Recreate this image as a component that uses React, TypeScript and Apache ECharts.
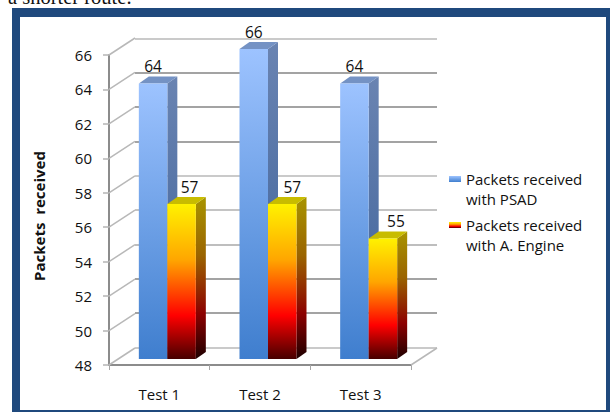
import React, { useEffect, useRef } from "react";
import * as echarts from "echarts";

const categories = ["Test 1", "Test 2", "Test 3"];
const psadValues = [64, 66, 64];
const engineValues = [57, 57, 55];
const yTicks = [48, 50, 52, 54, 56, 58, 60, 62, 64, 66];
const psadName = "Packets received\nwith PSAD";
const engineName = "Packets received\nwith A. Engine";

// Oblique projection of the 3D look, in pixels
const WALL_DX = 26;
const WALL_DY = 17;
const BAR_SHIFT_X = 8;
const BAR_SHIFT_Y = 6;
const BAR_WIDTH = 28.5;
const SIDE_DX = 10;
const SIDE_DY = 7;

const FONT = "Open Sans";

const grad = (stops: [number, string][]) =>
  new echarts.graphic.LinearGradient(0, 0, 0, 1, stops.map(([offset, color]) => ({ offset, color })));

const blueFront: [number, string][] = [[0, "#9DC3FF"], [1, "#3F7ECE"]];
const blueSide: [number, string][] = [[0, "#6A84B2"], [1, "#3A5F98"]];
const hotFront: [number, string][] = [[0, "#FFF200"], [0.36, "#FFA600"], [0.72, "#FF0000"], [1, "#470000"]];
const hotSide: [number, string][] = [[0, "#A89400"], [0.36, "#9A6400"], [0.72, "#8C0000"], [1, "#1E0000"]];

// Swatch occupies the upper part of the legend icon box, beside the first text line
const swatchStops = (stops: [number, string][]): [number, string][] =>
  stops.map(([o, c]) => [(o * 6) / 26, c]);

const cuboid = (
  front: [number, string][],
  side: [number, string][],
  topColor: string,
  barOffset: number,
  labelNudge: number[],
) => (_params: any, api: any) => {
  const idx = api.value(0);
  const val = api.value(1);
  const [cx, yTop] = api.coord([idx, val]);
  const [, yBase] = api.coord([idx, 48]);
  const x0 = cx + BAR_SHIFT_X + barOffset * BAR_WIDTH;
  const x1 = x0 + BAR_WIDTH;
  const top = yTop - BAR_SHIFT_Y;
  const base = yBase - BAR_SHIFT_Y;
  return {
    type: "group",
    children: [
      {
        type: "polygon",
        shape: { points: [[x1, top], [x1 + SIDE_DX, top - SIDE_DY], [x1 + SIDE_DX, base - SIDE_DY], [x1, base]] },
        style: { fill: grad(side) },
      },
      {
        type: "polygon",
        shape: { points: [[x0, top], [x0 + SIDE_DX, top - SIDE_DY], [x1 + SIDE_DX, top - SIDE_DY], [x1, top]] },
        style: { fill: topColor },
      },
      {
        type: "rect",
        shape: { x: x0, y: top, width: BAR_WIDTH, height: base - top },
        style: { fill: grad(front) },
      },
      {
        type: "text",
        x: x0 + BAR_WIDTH / 2 + labelNudge[idx],
        y: top - 17,
        style: {
          text: String(val),
          fill: "#111",
          font: `15.5px "${FONT}"`,
          align: "center",
          verticalAlign: "middle",
        },
      },
    ],
  };
};

export default function App() {
  const ref = useRef<HTMLDivElement>(null);

  useEffect(() => {
    const chart = echarts.init(ref.current!, null, { renderer: "svg" });
    chart.setOption({
      animation: false,
      backgroundColor: "#fff",
      textStyle: { fontFamily: FONT },
      graphic: [
        {
          type: "text",
          x: 8,
          y: 7,
          z: 5,
          style: {
            text: "a shorter route.",
            font: '20.5px "Liberation Serif"',
            fill: "#111",
            verticalAlign: "bottom",
          },
        },
        { type: "rect", z: -10, shape: { x: 12, y: 8, width: 598, height: 404 }, style: { fill: "#1F497D" } },
        { type: "rect", z: -9, shape: { x: 20, y: 17, width: 586, height: 393 }, style: { fill: "#fff" } },
      ],
      grid: [
        { left: 109, top: 55, width: 302, height: 310 },
        { left: 135, top: 38.5, width: 302, height: 309 },
      ],
      xAxis: [
        {
          type: "category",
          gridIndex: 0,
          data: categories,
          axisLine: { lineStyle: { color: "#8C8C8C", width: 2 } },
          axisTick: { show: true, length: 5, lineStyle: { color: "#A6A6A6", width: 1 } },
          axisLabel: { color: "#111", fontSize: 15, margin: 21 },
        },
        { type: "category", gridIndex: 1, data: categories, show: false },
      ],
      yAxis: [
        {
          type: "value",
          gridIndex: 0,
          min: 48,
          max: 66,
          interval: 2,
          name: "Packets  received",
          nameLocation: "middle",
          nameGap: 63,
          nameTextStyle: { color: "#111", fontSize: 15, fontWeight: "bold", padding: [0, 12, 0, 0] },
          axisLine: { show: true, lineStyle: { color: "#8C8C8C", width: 2 } },
          axisTick: { show: true, length: 6, lineStyle: { color: "#B4B4B4", width: 1.5 } },
          axisLabel: { color: "#111", fontSize: 15, margin: 17 },
          splitLine: { show: false },
        },
        {
          type: "value",
          gridIndex: 1,
          min: 48,
          max: 66,
          interval: 2,
          axisLine: { show: false },
          axisTick: { show: false },
          axisLabel: { show: false },
          splitLine: {
            show: true,
            lineStyle: {
              width: 1.5,
              color: ["#B8B8B8", "#858585", "#858585", "#A8A8A8", "#B0B0B0", "#B8B8B8", "#858585", "#858585", "#858585", "#B8B8B8"],
            },
          },
        },
      ],
      legend: {
        orient: "vertical",
        left: 449,
        top: 169,
        itemWidth: 12,
        itemHeight: 26,
        itemGap: 6,
        padding: 0,
        selectedMode: false,
        textStyle: { color: "#111", fontSize: 15, lineHeight: 20 },
        data: [
          { name: psadName, icon: "path://M0 0H12V6H0Z M0 26H12V26H0Z", itemStyle: { color: grad(swatchStops(blueFront)), borderWidth: 0 } },
          { name: engineName, icon: "path://M0 0H12V6H0Z M0 26H12V26H0Z", itemStyle: { color: grad(swatchStops(hotFront)), borderWidth: 0 } },
        ],
      },
      series: [
        {
          // Diagonal wall-to-front connectors at each tick, plus the floor's right edge
          type: "custom",
          coordinateSystem: "cartesian2d",
          xAxisIndex: 0,
          yAxisIndex: 0,
          silent: true,
          z: 1,
          data: yTicks.map((t) => [0, t]),
          encode: { x: 0, y: 1 },
          renderItem: (params: any, api: any) => {
            const [, y] = api.coord([0, api.value(1)]);
            const sys = params.coordSys;
            const style = { stroke: "#B8B8B8", lineWidth: 1.5, fill: "none" };
            const children: any[] = [
              { type: "line", shape: { x1: sys.x, y1: y, x2: sys.x + WALL_DX, y2: y - WALL_DY }, style },
            ];
            if (api.value(1) === 48) {
              const xr = sys.x + sys.width;
              children.push({ type: "line", shape: { x1: xr, y1: y, x2: xr + WALL_DX, y2: y - WALL_DY }, style });
            }
            return { type: "group", children };
          },
        },
        {
          name: psadName,
          type: "custom",
          coordinateSystem: "cartesian2d",
          xAxisIndex: 0,
          yAxisIndex: 0,
          z: 3,
          itemStyle: { color: "#6F9FE0" },
          data: psadValues.map((v, i) => [i, v]),
          encode: { x: 0, y: 1 },
          renderItem: cuboid(blueFront, blueSide, "#7492C4", -1, [0, 0, 0]),
        },
        {
          name: engineName,
          type: "custom",
          coordinateSystem: "cartesian2d",
          xAxisIndex: 0,
          yAxisIndex: 0,
          z: 4,
          itemStyle: { color: "#FFA600" },
          data: engineValues.map((v, i) => [i, v]),
          encode: { x: 0, y: 1 },
          renderItem: cuboid(hotFront, hotSide, "#C8BC00", 0, [8, 10, 13]),
        },
      ],
    });
    return () => chart.dispose();
  }, []);

  return <div ref={ref} style={{ position: "fixed", left: 0, top: 0, width: 610, height: 412 }} />;
}
